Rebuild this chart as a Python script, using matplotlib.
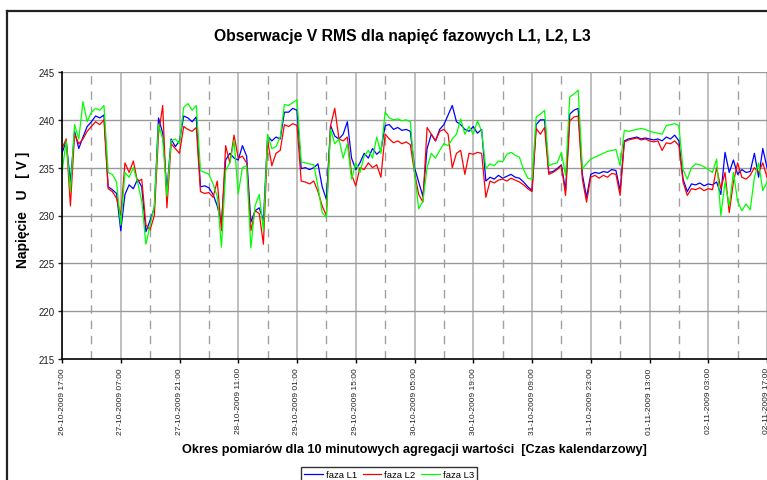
import numpy as np
import matplotlib
matplotlib.use('Agg')
import matplotlib.pyplot as plt
from matplotlib.lines import Line2D

plt.rcParams['font.family'] = ['Liberation Sans', 'DejaVu Sans']

# hourly readings from 26-10-2009 17:00 to 02-11-2009 17:00
faza_L1 = [236.5, 237.8, 233.5, 238.8, 237.0, 238.2, 239.3, 239.8, 240.4, 240.2,
           240.5, 233.0, 232.7, 232.3, 228.4, 232.2, 233.2, 232.8, 233.8, 233.0,
           228.3, 229.5, 230.8, 240.2, 238.6, 232.5, 238.0, 237.2, 237.8, 240.4,
           240.2, 239.8, 240.3, 233.0, 233.1, 232.9, 232.2, 231.0, 229.2, 235.8,
           236.5, 236.0, 235.8, 237.3, 236.2, 229.3, 230.5, 230.8, 229.5, 238.3,
           237.8, 238.2, 238.0, 240.8, 240.8, 241.2, 241.0, 234.9, 235.0, 234.8,
           235.0, 235.4, 233.0, 231.7, 239.4, 238.3, 238.0, 238.5, 239.8, 236.0,
           234.8, 235.5, 236.5, 236.0, 237.0, 236.4, 236.8, 239.4, 239.5, 239.0,
           239.2, 238.9, 239.0, 238.8, 235.0, 233.5, 232.0, 237.0, 238.5, 237.8,
           239.0, 239.5, 240.5, 241.5, 239.8, 239.5, 239.0, 238.8, 239.3, 238.6,
           239.0, 233.6, 234.0, 233.8, 234.2, 233.9, 234.1, 234.3, 234.0, 233.9,
           233.5, 233.0, 232.6, 239.5, 240.0, 240.0, 234.5, 234.6, 234.9, 235.3,
           232.6, 240.6, 241.0, 241.2, 234.3, 231.9, 234.3, 234.5, 234.4, 234.6,
           234.5, 234.8, 234.7, 232.6, 237.8, 238.0, 238.1, 238.2, 238.0, 238.1,
           238.0, 237.9, 238.0, 237.8, 238.2, 238.0, 238.4, 237.8, 233.8, 232.5,
           233.3, 233.2, 233.4, 233.1, 233.3, 233.2, 233.5, 232.2, 236.6, 234.5,
           235.8, 234.3, 234.8, 234.5, 234.6, 236.5, 234.0, 237.0, 235.0]

faza_L2 = [237.0, 238.0, 231.0, 238.5, 237.5, 238.0, 238.8, 239.3, 239.8, 239.5,
           240.0, 232.8, 232.5, 231.8, 230.0, 235.5, 234.5, 235.7, 233.5, 233.8,
           229.0, 228.5, 230.0, 238.5, 241.5, 230.8, 237.5, 237.0, 236.5, 239.3,
           239.0, 238.8, 239.2, 232.5, 232.3, 232.4, 231.9, 233.6, 228.4, 237.3,
           235.5, 238.4, 236.0, 236.2, 235.5, 228.4, 230.5, 230.2, 227.0, 237.8,
           235.2, 236.5, 236.8, 239.5, 239.3, 239.6, 239.4, 233.6, 233.5, 233.3,
           233.6, 232.5, 231.0, 230.0, 239.4, 241.2, 238.0, 237.8, 238.2, 234.3,
           233.1, 235.0, 234.8, 235.5, 235.0, 235.3, 234.0, 238.5, 238.0, 237.6,
           237.8, 237.5, 237.7, 237.4, 234.5, 232.2, 231.4, 239.2, 238.5, 237.8,
           238.8, 239.0, 238.5, 235.0, 236.5, 236.8, 234.3, 236.5, 236.4, 236.6,
           236.5, 231.9, 233.6, 233.4, 233.7, 233.8, 233.6, 233.9, 233.7, 233.5,
           233.2, 232.8, 232.5, 239.1, 238.5, 239.2, 234.3, 234.5, 234.8, 235.2,
           232.1, 239.9, 240.3, 240.4, 233.8, 231.4, 234.0, 234.2, 233.9, 234.2,
           234.0, 234.4, 234.3, 232.1, 237.7, 237.9, 238.0, 238.1, 237.9, 238.0,
           237.8, 237.7, 237.8, 236.8, 237.6, 237.5, 237.8, 237.3, 233.5, 232.1,
           232.8, 232.7, 232.9, 232.6, 232.8, 232.7, 235.0, 232.8, 234.5, 230.3,
           233.5, 235.5, 234.0, 233.8, 234.2, 235.0, 234.5, 235.5, 234.0]

faza_L3 = [234.5, 237.8, 232.5, 239.5, 238.0, 241.9, 239.8, 240.8, 241.2, 241.0,
           241.5, 234.5, 234.3, 233.5, 229.0, 234.5, 234.0, 235.0, 233.5, 231.5,
           227.0, 229.0, 231.0, 239.5, 238.0, 232.0, 237.8, 238.0, 237.5, 241.3,
           241.7, 241.0, 241.5, 234.7, 234.5, 234.3, 233.3, 232.0, 226.7, 234.7,
           235.5, 237.8, 232.3, 235.0, 235.2, 226.6, 231.0, 232.2, 228.4, 238.5,
           237.0, 237.2, 238.2, 241.6, 241.5, 241.8, 242.1, 235.6, 235.5, 235.4,
           235.3, 233.0, 230.3, 229.8, 239.0, 237.5, 238.0, 236.0, 237.5, 233.8,
           235.5, 234.5, 236.2, 236.8, 236.0, 238.2, 236.5, 240.8, 240.2, 240.0,
           240.1, 239.9, 240.0, 239.8, 234.5, 230.7, 231.5, 235.0, 236.5, 236.0,
           236.8, 237.5, 237.3, 238.0, 238.5, 240.1, 238.5, 239.3, 238.5, 239.9,
           238.8, 234.9, 235.4, 235.2, 235.7, 235.6, 236.4, 236.6, 236.3, 236.1,
           234.8, 233.9, 233.8, 240.3, 240.6, 241.0, 235.2, 235.4, 235.5, 236.6,
           234.2, 242.4, 242.7, 243.1, 234.9, 235.4, 235.9, 236.1, 236.3, 236.5,
           236.7, 236.8, 236.9, 235.2, 238.9, 238.8, 238.9, 239.0, 239.1, 239.0,
           238.8, 238.7, 238.6, 238.5, 239.4, 239.5, 239.6, 239.4, 234.8, 233.8,
           235.0, 235.4, 235.3, 235.1, 234.8, 234.5, 235.9, 230.0, 233.5, 231.0,
           234.5, 231.5, 230.5, 231.2, 230.6, 234.0, 235.5, 232.6, 233.5]

tick_labels = ['26-10-2009 17:00', '27-10-2009 07:00', '27-10-2009 21:00',
               '28-10-2009 11:00', '29-10-2009 01:00', '29-10-2009 15:00',
               '30-10-2009 05:00', '30-10-2009 19:00', '31-10-2009 09:00',
               '31-10-2009 23:00', '01-11-2009 13:00', '02-11-2009 03:00',
               '02-11-2009 17:00']

hours = np.arange(len(faza_L1))
major = np.arange(0, 169, 14)
minor = major[:-1] + 7

fig = plt.figure(figsize=(7.67, 4.81), dpi=100)
ax = fig.add_axes([62/767, 1-360/481, 1.0 - 62/767, 287/481])

for m in major:
    ax.axvline(m, color='#b4b4b4', lw=1.2, zorder=0)
for m in minor:
    ax.axvline(m, color='#a0a0a0', lw=1, ls=(0, (6, 5)), zorder=0)
for v in range(220, 246, 5):
    ax.axhline(v, color='#9a9a9a', lw=1, zorder=0)

ax.plot(hours, faza_L1, color='#0000ff', lw=0.9, label='faza L1')
ax.plot(hours, faza_L2, color='#ff0000', lw=0.9, label='faza L2')
ax.plot(hours, faza_L3, color='#00ff00', lw=0.9, label='faza L3')

ax.set_xlim(0, 168)
ax.set_ylim(215, 245)
ax.set_yticks(range(215, 246, 5))
ax.set_xticks(major)
ax.set_xticklabels(tick_labels, rotation=90, fontsize=6, color='#222222')
ax.tick_params(axis='y', labelsize=7, length=3, width=1, pad=2, colors='#222222')
ax.tick_params(axis='x', length=3, width=1, pad=3)
for s in ['top', 'right']:
    ax.spines[s].set_visible(False)
for s in ['left', 'bottom']:
    ax.spines[s].set_linewidth(1.2)

ax.set_ylabel('Napięcie   U   [ V ]', fontsize=10, fontweight='bold')
ax.yaxis.set_label_coords(-32/705, 0.523)
ax.set_xlabel('Okres pomiarów dla 10 minutowych agregacji wartości  [Czas kalendarzowy]',
              fontsize=9.2, fontweight='bold', labelpad=6)
fig.text(402/767, 1-37/481, 'Obserwacje V RMS dla napięć fazowych L1, L2, L3',
         ha='center', va='center', fontsize=11.3, fontweight='bold')

leg = fig.legend(loc='upper center', bbox_to_anchor=(389/767, 1-468/481), ncol=3,
                 fontsize=6.8, frameon=True, fancybox=False, handlelength=2.0,
                 borderpad=0.3, columnspacing=0.6, handletextpad=0.3,
                 borderaxespad=0)
leg.get_frame().set_edgecolor('black')
leg.get_frame().set_linewidth(1)

# outer chart border
fig.add_artist(Line2D([7/767, 7/767], [0, 1-12/481], color='#222222', lw=1.6))
fig.add_artist(Line2D([7/767, 1], [1-12/481, 1-12/481], color='#222222', lw=1.6))

fig.savefig('out.png', dpi=100)
